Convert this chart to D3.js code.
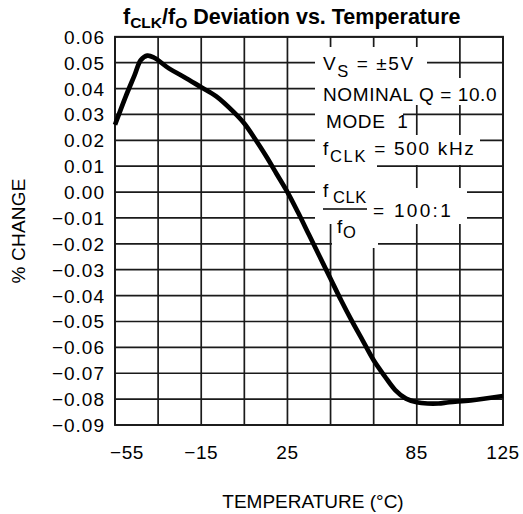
<!DOCTYPE html>
<html>
<head>
<meta charset="utf-8">
<script src="https://cdn.jsdelivr.net/npm/d3@7"></script>
<style>
  html, body { margin: 0; padding: 0; background: #fff; }
  svg { display: block; }
  text { font-family: "Liberation Sans", Arial, sans-serif; fill: #000; }
</style>
</head>
<body>
<svg id="chart" width="523" height="514"></svg>
<script>
// ---- data ----
const temperature = [-55, -50, -46, -43, -40, -37, -30, -23, -15, -8, 0, 5, 10, 15, 20, 25, 30, 35, 40, 45, 50, 55, 60, 65, 70, 75, 80, 85, 90, 95, 100, 110, 125];
const pctChange   = [0.026, 0.037, 0.045, 0.051, 0.0527, 0.052, 0.0478, 0.0445, 0.0405, 0.037, 0.031, 0.0265, 0.0205, 0.014, 0.007, 0.0, -0.008, -0.0165, -0.025, -0.0335, -0.042, -0.050, -0.0575, -0.065, -0.071, -0.0765, -0.0798, -0.0812, -0.0817, -0.0817, -0.0812, -0.0805, -0.0788];
const xTickValues = [-55, -15, 25, 85, 125];
const xGridValues = [-55, -35, -15, 5, 25, 45, 65, 85, 105, 125];
const yTickValues = [0.06, 0.05, 0.04, 0.03, 0.02, 0.01, 0.00, -0.01, -0.02, -0.03, -0.04, -0.05, -0.06, -0.07, -0.08, -0.09];

// ---- layout ----
const L = 115, R = 503, T = 36.8, B = 425;
const svg = d3.select("#chart");
const x = d3.scaleLinear().domain([-55, 125]).range([L, R]);
const y = d3.scaleLinear().domain([-0.09, 0.06]).range([B, T]);

const gridColor = "#1a1a1a";
const g = svg.append("g");

// grid
g.selectAll("line.v").data(xGridValues).join("line")
  .attr("x1", d => x(d)).attr("x2", d => x(d)).attr("y1", T).attr("y2", B)
  .attr("stroke", gridColor).attr("stroke-width", 1.7);
g.selectAll("line.h").data(yTickValues).join("line")
  .attr("y1", d => y(d)).attr("y2", d => y(d)).attr("x1", L).attr("x2", R)
  .attr("stroke", gridColor).attr("stroke-width", 1.7);

// white masks behind annotation text
const masks = [
  [315, 47, 427, 78], [315, 78, 502, 105], [315, 105, 403, 135], [315, 135, 480, 165],
  [315, 165, 377, 224], [365, 188, 467, 224], [332, 224, 378, 248]
];
g.selectAll("rect.mask").data(masks).join("rect")
  .attr("x", d => d[0]).attr("y", d => d[1]).attr("width", d => d[2] - d[0]).attr("height", d => d[3] - d[1])
  .attr("fill", "#fff");

// border
g.append("rect").attr("x", L).attr("y", T).attr("width", R - L).attr("height", B - T)
  .attr("fill", "none").attr("stroke", gridColor).attr("stroke-width", 1.9);

// curve
const line = d3.line().x((d, i) => x(temperature[i])).y(d => y(d)).curve(d3.curveCatmullRom.alpha(0.5));
g.append("path").datum(pctChange).attr("d", line)
  .attr("fill", "none").attr("stroke", "#000").attr("stroke-width", 4.7)
  .attr("stroke-linejoin", "round").attr("stroke-linecap", "butt");

// y tick labels
const fmt = v => (v < 0 ? "\u2212" : "") + Math.abs(v).toFixed(2);
g.selectAll("text.yt").data(yTickValues).join("text")
  .attr("x", 105).attr("y", d => y(d) + 7)
  .attr("text-anchor", "end").attr("font-size", 19).attr("letter-spacing", 1)
  .text(d => fmt(d));

// x tick labels
g.selectAll("text.xt").data(xTickValues).join("text")
  .attr("x", d => x(d) + (d === -55 ? 12 : 0)).attr("y", 459)
  .attr("text-anchor", "middle").attr("font-size", 19).attr("letter-spacing", 0.6)
  .text(d => (d < 0 ? "\u2212" : "") + Math.abs(d));

// axis titles
svg.append("text").attr("x", 313).attr("y", 508).attr("text-anchor", "middle")
  .attr("font-size", 19).text("TEMPERATURE (\u00B0C)");
svg.append("text").attr("transform", "translate(25,231) rotate(-90)").attr("text-anchor", "middle")
  .attr("font-size", 19).attr("letter-spacing", 0.2).text("% CHANGE");

// title
const title = svg.append("text").attr("x", 123).attr("y", 24).attr("font-size", 21.5).attr("font-weight", "bold");
title.append("tspan").text("f");
title.append("tspan").attr("font-size", 15.5).attr("dy", 4).text("CLK");
title.append("tspan").attr("dy", -4).text("/f");
title.append("tspan").attr("font-size", 15.5).attr("dy", 4).text("O");
title.append("tspan").attr("dy", -4).text(" Deviation vs. Temperature");

// annotations
const ann = svg.append("g").attr("font-size", 19).attr("letter-spacing", 0.6);
const t1 = ann.append("text").attr("x", 323).attr("y", 70).attr("letter-spacing", 1.6);
t1.append("tspan").text("V");
t1.append("tspan").attr("dy", 7).attr("font-size", 16.5).text("S");
t1.append("tspan").attr("dy", -7).text(" = \u00B15V");
ann.append("text").attr("x", 323).attr("y", 101).text("NOMINAL Q = 10.0");
ann.append("text").attr("x", 326).attr("y", 128).attr("xml:space", "preserve").style("white-space", "pre").text("MODE  1");
const t4 = ann.append("text").attr("x", 323).attr("y", 155).attr("letter-spacing", 1.7);
t4.append("tspan").text("f");
t4.append("tspan").attr("dy", 7).attr("font-size", 16.5).text("CLK");
t4.append("tspan").attr("dy", -7).text(" = 500 kHz");
const t5 = ann.append("text").attr("x", 323).attr("y", 197);
t5.append("tspan").text("f");
t5.append("tspan").attr("dx", 4).attr("dy", 6).attr("font-size", 16.5).text("CLK");
ann.append("line").attr("x1", 323).attr("x2", 367).attr("y1", 209).attr("y2", 209).attr("stroke", "#000").attr("stroke-width", 1.5);
const t6 = ann.append("text").attr("x", 337).attr("y", 233);
t6.append("tspan").text("f");
t6.append("tspan").attr("dy", 5).attr("font-size", 16.5).text("O");
ann.append("text").attr("x", 373).attr("y", 217).attr("letter-spacing", 2.3).text("= 100:1");
</script>
</body>
</html>
